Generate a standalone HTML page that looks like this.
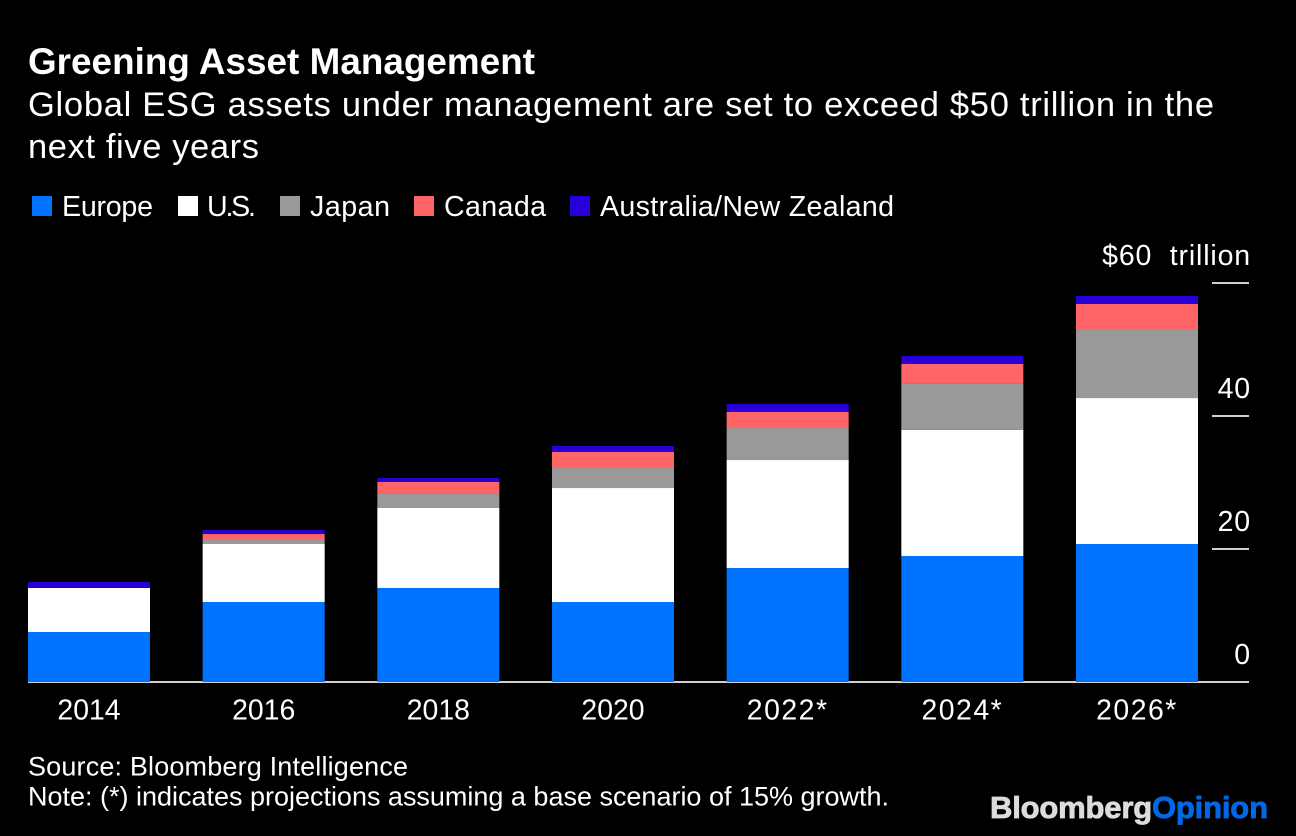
<!DOCTYPE html>
<html lang="en">
<head>
<meta charset="utf-8">
<title>Greening Asset Management</title>
<style>
html,body{margin:0;padding:0;background:#000;width:1296px;height:836px;overflow:hidden}
svg{display:block}
text{font-family:"Liberation Sans",Arial,sans-serif;fill:#fff}
</style>
</head>
<body>
<svg id="chart" width="1296" height="836" viewBox="0 0 1296 836" xmlns="http://www.w3.org/2000/svg">
<rect width="1296" height="836" fill="#000"/>
<text x="28" y="74" font-size="36.8" font-weight="700" textLength="507" lengthAdjust="spacing">Greening Asset Management</text>
<text x="28" y="116" font-size="34.5" textLength="1186" lengthAdjust="spacing">Global ESG assets under management are set to exceed $50 trillion in the</text>
<text x="28" y="158" font-size="34.5" textLength="231" lengthAdjust="spacing">next five years</text>
<g>
<rect x="32" y="196" width="20" height="20" fill="#0073ff"/>
<text x="62" y="216" font-size="28.6" textLength="91" lengthAdjust="spacing">Europe</text>
<rect x="178" y="196" width="20" height="20" fill="#fff"/>
<text x="207" y="216" font-size="28.6" textLength="49" lengthAdjust="spacing">U.S.</text>
<rect x="280" y="196" width="20" height="20" fill="#999"/>
<text x="310" y="216" font-size="28.6" textLength="80" lengthAdjust="spacing">Japan</text>
<rect x="414" y="196" width="20" height="20" fill="#ff6466"/>
<text x="444" y="216" font-size="28.6" textLength="102" lengthAdjust="spacing">Canada</text>
<rect x="570" y="196" width="20" height="20" fill="#2800d7"/>
<text x="600" y="216" font-size="28.6" textLength="294" lengthAdjust="spacing">Australia/New Zealand</text>
</g>
<g id="axis-base"></g>
<g id="bars"></g>
<g id="axes"></g>
<text x="28" y="775.5" font-size="27" textLength="380" lengthAdjust="spacing">Source: Bloomberg Intelligence</text>
<text x="28" y="805.5" font-size="27" textLength="861" lengthAdjust="spacing">Note: (*) indicates projections assuming a base scenario of 15% growth.</text>
<text x="990" y="818" font-size="31" font-weight="700" textLength="278" lengthAdjust="spacing" stroke-width="0.8"><tspan style="fill:#dcdcdc;stroke:#dcdcdc">Bloomberg</tspan><tspan style="fill:#0068e6;stroke:#0068e6">Opinion</tspan></text>
</svg>
<script>
const categories = ['2014', '2016', '2018', '2020', '2022*', '2024*', '2026*'];
const europe = [7.52, 12.03, 14.14, 12.03, 17.14, 18.95, 20.75];
const us = [6.62, 8.72, 12.03, 17.14, 16.24, 18.95, 21.95];
const japan = [0, 0.6, 2.11, 3.01, 4.81, 6.92, 10.23];
const canada = [0, 0.9, 1.8, 2.41, 2.41, 3.01, 3.91];
const australiaNewZealand = [0.9, 0.6, 0.6, 0.9, 1.2, 1.2, 1.2];
const tickValues = [0, 20, 40, 60];
const tickLabels = ['0', '20', '40', '$60  trillion'];

const NS = 'http://www.w3.org/2000/svg';
const barsGroup = document.getElementById('bars');
const axesGroup = document.getElementById('axes');
const axisBaseGroup = document.getElementById('axis-base');
const seriesList = [
  { key: 'europe', values: europe, color: '#0073ff' },
  { key: 'us', values: us, color: '#ffffff' },
  { key: 'japan', values: japan, color: '#999999' },
  { key: 'canada', values: canada, color: '#ff6466' },
  { key: 'australia-new-zealand', values: australiaNewZealand, color: '#2800d7' }
];
const plotLeft = 28;
const plotRight = 1198;
const barWidth = 122;
const baseY = 682;
const topY = 283;
const domainMax = 60;
function yScale(v) { return baseY - v * (baseY - topY) / domainMax; }
function xScale(i) {
  const step = (plotRight - plotLeft - barWidth) / (categories.length - 1);
  return plotLeft + i * step;
}
function svgEl(tag, attrs, parent) {
  const el = document.createElementNS(NS, tag);
  Object.keys(attrs).forEach(function (k) { el.setAttribute(k, attrs[k]); });
  parent.appendChild(el);
  return el;
}
categories.forEach(function (cat, i) {
  let cum = 0;
  seriesList.forEach(function (s) {
    const v = s.values[i];
    const y1 = yScale(cum);
    const y0 = yScale(cum + v);
    cum += v;
    if (v <= 0) return;
    const bar = svgEl('rect', { x: xScale(i), y: y0, width: barWidth, height: y1 - y0, fill: s.color }, barsGroup);
    
    
  });
  const starred = cat.indexOf('*') >= 0;
  const label = svgEl('text', { x: xScale(i) + barWidth / 2, y: 719.5, 'font-size': 28.4, 'text-anchor': 'middle', 'letter-spacing': starred ? 1.5 : 0 }, axesGroup);
  label.textContent = cat;
  
  
});
const tickRight = 1249;
const tickLeft = 1212;
tickValues.forEach(function (v, i) {
  const y = yScale(v);
  const isBase = v === 0;
  const line = svgEl('line', { x1: isBase ? plotLeft : tickLeft, x2: tickRight, y1: y, y2: y, stroke: '#d0d0d0', 'stroke-width': 2 }, isBase ? axisBaseGroup : axesGroup);
  
  
  const text = svgEl('text', { x: 1251, y: y - 18, 'font-size': 28.5, 'text-anchor': 'end', 'letter-spacing': 0.85, style: 'white-space:pre' }, axesGroup);
  text.textContent = tickLabels[i];
  
  
});
</script>
</body>
</html>
